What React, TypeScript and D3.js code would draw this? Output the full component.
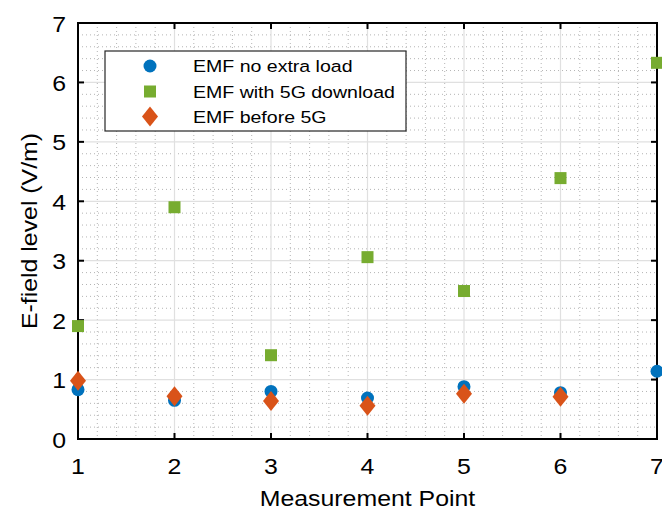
import React from "react";
import * as d3 from "d3";

const points = [1, 2, 3, 4, 5, 6, 7];
const emfNoLoad = [0.83, 0.65, 0.8, 0.69, 0.88, 0.78, 1.14];
const emf5GDownload = [1.9, 3.9, 1.41, 3.06, 2.49, 4.39, 6.33];
const emfBefore5G = [0.98, 0.72, 0.64, 0.56, 0.76, 0.71];
const xTicks = [1, 2, 3, 4, 5, 6, 7];
const yTicks = [0, 1, 2, 3, 4, 5, 6, 7];
const seriesNames = ["EMF no extra load", "EMF with 5G download", "EMF before 5G"];

const W = 662;
const H = 510;
const M = { left: 78, right: 657, top: 23, bottom: 439 };
const FONT = "'Liberation Sans', Arial, Helvetica, sans-serif";
const BLUE = "#0072BD";
const GREEN = "#77AC30";
const ORANGE = "#D95319";
// glyphs are drawn slightly wide
const STRETCH = 1.13;

const x = d3.scaleLinear().domain([1, 7]).range([M.left, M.right]);
const y = d3.scaleLinear().domain([0, 7]).range([M.bottom, M.top]);

const circle = (cx: number, cy: number, key: string) => (
  <circle key={key} cx={cx} cy={cy} r={6.5} fill={BLUE} />
);
const square = (cx: number, cy: number, key: string) => (
  <rect key={key} x={cx - 6} y={cy - 6} width={12} height={12} fill={GREEN} />
);
const diamond = (cx: number, cy: number, key: string) => (
  <path
    key={key}
    d={`M${cx},${cy - 10}L${cx + 8},${cy}L${cx},${cy + 10}L${cx - 8},${cy}Z`}
    fill={ORANGE}
  />
);

export default function App() {
  const minorX = d3.range(1, 7.0001, 0.2).filter((v) => Math.abs(v - Math.round(v)) > 1e-6);
  const minorY = d3.range(0, 7.0001, 0.2).filter((v) => Math.abs(v - Math.round(v)) > 1e-6);
  const tick = 6;

  const legendX = 105;
  const legendY = 51;
  const legendW = 301;
  const legendH = 80;
  const rowY = [66, 91.5, 116.5];
  const markers = [circle, square, diamond];

  return (
    <svg
      width={W}
      height={H}
      style={{ position: "absolute", left: 0, top: 0, background: "#fff" }}
      fontFamily={FONT}
    >
      <rect x={0} y={0} width={W} height={H} fill="#fff" />
      {/* minor grid */}
      <g stroke="#b4b4b4" strokeWidth={1} strokeDasharray="1 3">
        {minorX.map((v) => (
          <line key={`mx${v}`} x1={x(v)} x2={x(v)} y1={M.top} y2={M.bottom} />
        ))}
        {minorY.map((v) => (
          <line key={`my${v}`} x1={M.left} x2={M.right} y1={y(v)} y2={y(v)} />
        ))}
      </g>
      {/* major grid */}
      <g stroke="#e0e0e0" strokeWidth={1.2}>
        {xTicks.map((v) => (
          <line key={`gx${v}`} x1={x(v)} x2={x(v)} y1={M.top} y2={M.bottom} />
        ))}
        {yTicks.map((v) => (
          <line key={`gy${v}`} x1={M.left} x2={M.right} y1={y(v)} y2={y(v)} />
        ))}
      </g>
      {/* axes box and inward ticks */}
      <g stroke="#000" strokeWidth={2} fill="none">
        <rect x={M.left} y={M.top} width={M.right - M.left} height={M.bottom - M.top} />
        {xTicks.map((v) => (
          <g key={`tx${v}`}>
            <line x1={x(v)} x2={x(v)} y1={M.bottom} y2={M.bottom - tick} />
            <line x1={x(v)} x2={x(v)} y1={M.top} y2={M.top + tick} />
          </g>
        ))}
        {yTicks.map((v) => (
          <g key={`ty${v}`}>
            <line x1={M.left} x2={M.left + tick} y1={y(v)} y2={y(v)} />
            <line x1={M.right} x2={M.right - tick} y1={y(v)} y2={y(v)} />
          </g>
        ))}
      </g>
      {/* tick labels */}
      <g fontSize={22} fill="#000">
        {xTicks.map((v) => (
          <text
            key={`lx${v}`}
            transform={`translate(${x(v)},${M.bottom + 35}) scale(${STRETCH},1)`}
            textAnchor="middle"
          >
            {v}
          </text>
        ))}
        {yTicks.map((v) => (
          <text
            key={`ly${v}`}
            transform={`translate(${M.left - 12},${y(v) + 8.5}) scale(${STRETCH},1)`}
            textAnchor="end"
          >
            {v}
          </text>
        ))}
      </g>
      <text
        transform={`translate(${(M.left + M.right) / 2},506) scale(${STRETCH},1)`}
        textAnchor="middle"
        fontSize={22}
      >
        Measurement Point
      </text>
      <text
        transform={`translate(37,${(M.top + M.bottom) / 2}) rotate(-90) scale(${STRETCH},1)`}
        textAnchor="middle"
        fontSize={22}
      >
        E-field level (V/m)
      </text>
      {/* data */}
      <g>
        {points.map((p, i) => circle(x(p), y(emfNoLoad[i]), `c${i}`))}
        {points.map((p, i) => square(x(p), y(emf5GDownload[i]), `s${i}`))}
        {emfBefore5G.map((v, i) => diamond(x(points[i]), y(v), `d${i}`))}
      </g>
      {/* legend */}
      <g>
        <rect
          x={legendX}
          y={legendY}
          width={legendW}
          height={legendH}
          fill="#fff"
          stroke="#262626"
          strokeWidth={1.2}
        />
        {seriesNames.map((name, i) => (
          <g key={name}>
            {markers[i](150, rowY[i], `lg${i}`)}
            <text
              transform={`translate(193,${rowY[i] + 6}) scale(1.15,1)`}
              fontSize={17}
              fill="#000"
            >
              {name}
            </text>
          </g>
        ))}
      </g>
    </svg>
  );
}
